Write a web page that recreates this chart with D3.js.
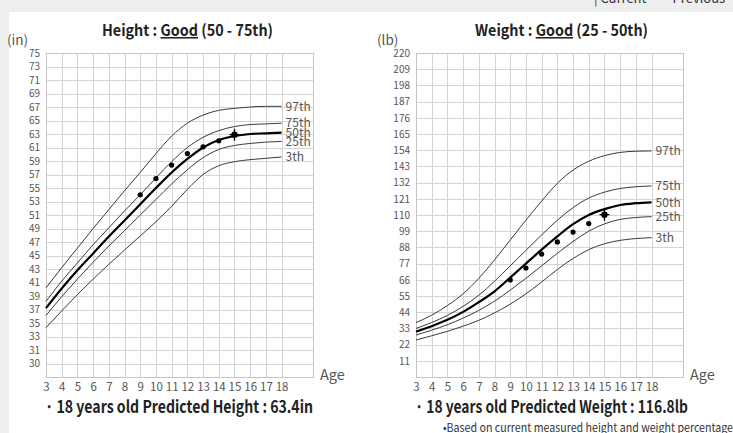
<!DOCTYPE html>
<html lang="en">
<head>
  <meta charset="UTF-8">
  <title>Height / Weight growth charts</title>
  <style>
    body { margin: 0; background: #eeeeee; }
    svg { display: block; font-family: "Noto Sans CJK KR", "Noto Sans CJK SC", sans-serif; }
    .grid line { stroke: #d4d4d4; stroke-width: 1; shape-rendering: crispEdges; }
    .grid path { display: none; }
    .axis path, .axis line { display: none; }
    .axis text { fill: #555; font-family: "Noto Sans CJK KR", sans-serif; }
    .curve { fill: none; stroke: #3a3a3a; stroke-width: 1; }
    .curve.p50 { stroke: #000; stroke-width: 2.2; }
    .plabel { fill: #555; font-size: 12px; }
  </style>
  <script src="https://d3js.org/d3.v7.min.js"></script>
</head>
<body>
<svg id="chart" width="733" height="433"></svg>
<script>
// ages on the x axis
var ages = [3, 4, 5, 6, 7, 8, 9, 10, 11, 12, 13, 14, 15, 16, 17, 18];
var percentileNames = ["97th", "75th", "50th", "25th", "3th"];

// height percentile curves (in)
var heightP97 = [40.2, 43.2, 46.1, 49.0, 51.8, 54.6, 57.3, 60.1, 62.7, 64.6, 65.8, 66.5, 66.8, 67.0, 67.1, 67.1];
var heightP75 = [38.2, 41.2, 43.9, 46.6, 49.1, 51.6, 54.0, 56.5, 58.9, 61.0, 62.5, 63.5, 64.1, 64.4, 64.5, 64.6];
var heightP50 = [37.2, 40.1, 42.8, 45.3, 47.8, 50.2, 52.6, 55.0, 57.3, 59.3, 61.0, 62.1, 62.7, 63.0, 63.1, 63.2];
var heightP25 = [36.1, 38.9, 41.5, 44.0, 46.4, 48.7, 51.0, 53.3, 55.6, 57.7, 59.5, 60.7, 61.3, 61.6, 61.8, 61.9];
var heightP3  = [34.3, 36.8, 39.2, 41.5, 43.7, 45.8, 47.9, 50.0, 52.3, 54.8, 57.0, 58.3, 58.9, 59.2, 59.4, 59.6];
// measured heights
var heightAges = [9, 10, 11, 12, 13, 14, 15];
var heightValues = [54.0, 56.4, 58.4, 60.1, 61.1, 62.0, 62.9];
var heightTickValues = [29, 31, 33, 35, 37, 39, 41, 43, 45, 47, 49, 51, 53, 55, 57, 59, 61, 63, 65, 67, 69, 71, 73, 75];
var heightTickLabels = ["30", "31", "33", "35", "37", "39", "41", "43", "45", "47", "49", "51", "53", "55", "57", "59", "61", "63", "65", "67", "69", "71", "73", "75"];

// weight percentile curves (lb)
var weightP97 = [36.9, 42.0, 48.5, 56.5, 67.0, 79.5, 93.0, 106.5, 119.5, 131.5, 140.5, 146.5, 150.3, 152.5, 153.3, 153.5];
var weightP75 = [33.0, 37.0, 41.8, 48.0, 55.5, 65.0, 75.5, 86.0, 96.5, 106.5, 115.0, 121.5, 125.5, 128.0, 129.2, 129.7];
var weightP50 = [30.8, 34.5, 38.8, 44.2, 50.8, 58.2, 67.5, 77.0, 86.5, 95.5, 103.8, 110.0, 114.0, 116.8, 118.0, 118.6];
var weightP25 = [28.5, 31.8, 35.5, 40.0, 45.2, 51.5, 59.0, 67.0, 75.5, 84.0, 92.0, 99.0, 104.0, 107.0, 108.3, 108.9];
var weightP3  = [25.1, 28.0, 31.0, 34.5, 38.5, 43.5, 49.5, 56.5, 64.5, 73.0, 80.5, 86.5, 90.5, 92.8, 94.0, 94.6];
// measured weights
var weightAges = [9, 10, 11, 12, 13, 14, 15];
var weightValues = [65.9, 74.0, 83.5, 91.7, 98.4, 104.2, 110.2];
var weightTickValues = [11, 22, 33, 44, 55, 66, 77, 88, 99, 110, 121, 132, 143, 154, 165, 176, 187, 198, 209, 220];

var svg = d3.select("#chart");

// white card under the two charts
svg.append("rect").attr("x", 9).attr("y", 12).attr("width", 724).attr("height", 421).attr("fill", "#fff");

// legend cut off at the top of the screen
var legend = svg.append("g").attr("font-size", 13).attr("fill", "#333");
legend.append("text").attr("x", 594).attr("y", 3).text("| Current");
legend.append("text").attr("x", 658).attr("y", 3).text("— Previous");

function drawChart(cfg) {
  var g = svg.append("g").attr("transform", "translate(" + cfg.left + ",53)");
  var width = 267, height = 324;

  var x = d3.scaleLinear().domain([3, 20]).range([0, width]);
  var y = d3.scaleLinear().domain(cfg.yDomain).range([height, 0]);

  // grid
  g.append("g").attr("class", "grid")
    .call(d3.axisLeft(y).tickValues(cfg.yTicks).tickSize(-width).tickFormat(""));
  g.append("g").attr("class", "grid")
    .attr("transform", "translate(0," + height + ")")
    .call(d3.axisBottom(x).tickValues(ages).tickSize(-height).tickFormat(""));
  g.append("rect").attr("width", width).attr("height", height)
    .attr("fill", "none").attr("stroke", "#c4c4c4").attr("shape-rendering", "crispEdges");

  // axes labels
  g.append("g").attr("class", "axis")
    .call(d3.axisLeft(y).tickValues(cfg.yTicks).tickSize(0).tickPadding(6).tickFormat(cfg.yFormat))
    .selectAll("text").attr("font-size", 10);
  g.append("g").attr("class", "axis")
    .attr("transform", "translate(0," + height + ")")
    .call(d3.axisBottom(x).tickValues(ages).tickSize(0).tickPadding(6).tickFormat(d3.format("d")))
    .selectAll("text").attr("font-size", 11.5).attr("fill", "#555");

  // percentile curves
  var line = d3.line()
    .x(function(d, i) { return x(ages[i]); })
    .y(function(d) { return y(d); })
    .curve(d3.curveMonotoneX);

  cfg.curves.forEach(function(c, k) {
    g.append("path").datum(c)
      .attr("class", "curve" + (percentileNames[k] == "50th" ? " p50" : ""))
      .attr("d", line);
    g.append("text").attr("class", "plabel")
      .attr("x", x(18) + 4).attr("y", y(c[c.length - 1]))
      .attr("dy", "0.35em")
      .text(percentileNames[k]);
  });

  // measured points
  g.selectAll(".pt").data(cfg.values).enter().append("circle")
    .attr("cx", function(d, i) { return x(cfg.ages[i]); })
    .attr("cy", function(d) { return y(d); })
    .attr("r", 2.6).attr("fill", "#000");

  // current measurement marker (last point)
  var last = cfg.values.length - 1;
  var cx = x(cfg.ages[last]), cy = y(cfg.values[last]);
  g.append("path")
    .attr("d", "M" + (cx - 5) + "," + cy + "H" + (cx + 5) + "M" + cx + "," + (cy - 6) + "V" + (cy + 6))
    .attr("stroke", "#000").attr("stroke-width", 1.3);
  g.append("circle").attr("cx", cx).attr("cy", cy).attr("r", 3.2).attr("fill", "#000");

  // titles and labels (reference text runs a bit narrow, so widths are fitted)
  var title = svg.append("text").attr("x", cfg.titleX).attr("y", 36)
    .attr("textLength", cfg.titleW).attr("lengthAdjust", "spacingAndGlyphs")
    .attr("font-size", 15.5).attr("font-weight", "bold").attr("fill", "#222");
  title.append("tspan").text(cfg.title[0]);
  title.append("tspan").attr("text-decoration", "underline").text(cfg.title[1]);
  title.append("tspan").text(cfg.title[2]);

  svg.append("text").attr("x", cfg.left - 39).attr("y", 45)
    .attr("font-size", 13.5).attr("fill", "#555").text(cfg.unit);
  svg.append("text").attr("x", cfg.left + width + 7).attr("y", 380)
    .attr("font-size", 14.5).attr("fill", "#555").text("Age");
  svg.append("text").attr("x", cfg.left - 1).attr("y", 413)
    .attr("textLength", cfg.predW).attr("lengthAdjust", "spacingAndGlyphs")
    .attr("font-size", 17).attr("font-weight", "bold").attr("fill", "#222").text(cfg.predicted);
}

drawChart({
  left: 46,
  yDomain: [27, 75],
  yTicks: heightTickValues,
  yFormat: function(d, i) { return heightTickLabels[i]; },
  curves: [heightP97, heightP75, heightP50, heightP25, heightP3],
  ages: heightAges,
  values: heightValues,
  title: ["Height : ", "Good", " (50 - 75th)"],
  titleX: 102, titleW: 171,
  unit: "(in)",
  predicted: "· 18 years old Predicted Height : 63.4in",
  predW: 268
});

drawChart({
  left: 416,
  yDomain: [0, 220],
  yTicks: weightTickValues,
  yFormat: d3.format("d"),
  curves: [weightP97, weightP75, weightP50, weightP25, weightP3],
  ages: weightAges,
  values: weightValues,
  title: ["Weight : ", "Good", " (25 - 50th)"],
  titleX: 475, titleW: 173,
  unit: "(lb)",
  predicted: "· 18 years old Predicted Weight : 116.8lb",
  predW: 273
});

svg.append("text").attr("x", 443).attr("y", 432)
  .attr("textLength", 290).attr("lengthAdjust", "spacingAndGlyphs")
  .attr("font-size", 11.5).attr("fill", "#333")
  .text("•Based on current measured height and weight percentage");
</script>
</body>
</html>
